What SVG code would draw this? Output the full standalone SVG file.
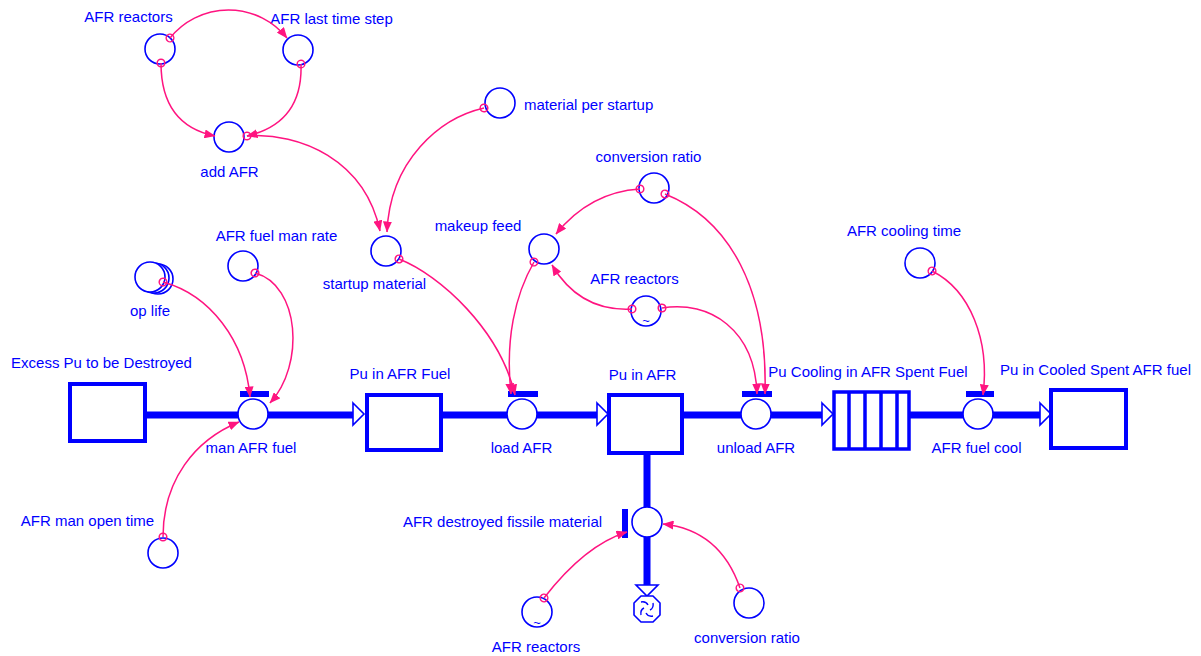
<svg xmlns="http://www.w3.org/2000/svg" width="1201" height="656" viewBox="0 0 1201 656">
<defs>
<style>
text{font-family:"Liberation Sans",Arial,sans-serif;font-size:15px;fill:#0000ff}
.m{text-anchor:middle}
.aux{fill:#fff;stroke:#0000ff;stroke-width:1.6}
.stock{fill:#fff;stroke:#0000ff;stroke-width:4}
.pipe{stroke:#0000ff;stroke-width:7;fill:none}
.tip{fill:#fff;stroke:#0000ff;stroke-width:1.6}
.bar{fill:#0000ff}
.lk{fill:none;stroke:#ff1480;stroke-width:1.5;marker-start:url(#dot);marker-end:url(#ah)}
.tl{font-size:13px}
</style>
<marker id="ah" markerUnits="userSpaceOnUse" viewBox="0 0 11 9" markerWidth="11" markerHeight="9" refX="10.5" refY="4.5" orient="auto">
<path d="M0,0 L11,4.5 L0,9 Z" fill="#ff1480"/>
</marker>
<marker id="dot" markerUnits="userSpaceOnUse" viewBox="0 0 12 12" markerWidth="12" markerHeight="12" refX="6" refY="6" orient="auto">
<circle cx="6" cy="6" r="3.8" fill="none" stroke="#ff1480" stroke-width="1.5"/>
</marker>
</defs>
<rect width="1201" height="656" fill="#fff"/>

<g id="flows">
<line class="pipe" x1="146" y1="415" x2="354" y2="415"/>
<polygon class="tip" points="353,403 364,414 353,425"/>
<line class="pipe" x1="442" y1="415" x2="598" y2="415"/>
<polygon class="tip" points="597,403 608,414 597,425"/>
<line class="pipe" x1="683" y1="415" x2="823" y2="415"/>
<polygon class="tip" points="822,403 833,414 822,425"/>
<line class="pipe" x1="909" y1="415" x2="1041" y2="415"/>
<polygon class="tip" points="1040,403 1051,414 1040,425"/>
<line class="pipe" x1="647" y1="455" x2="647" y2="586"/>
<polygon class="tip" points="636,585 658,585 647,596"/>
</g>

<g id="excess-pu">
<rect class="stock" x="70" y="384" width="75" height="57"/>
<text class="m" x="101.5" y="368">Excess Pu to be Destroyed</text>
</g>
<g id="pu-in-afr-fuel">
<rect class="stock" x="367" y="395" width="74" height="55"/>
<text class="m" x="400" y="379">Pu in AFR Fuel</text>
</g>
<g id="pu-in-afr">
<rect class="stock" x="609" y="395" width="73" height="58"/>
<text class="m" x="642.5" y="380">Pu in AFR</text>
</g>
<g id="pu-cooling">
<rect x="834" y="392" width="75" height="57" fill="#fff" stroke="#0000ff" stroke-width="3.5"/>
<path d="M849,392 V449 M865,392 V449 M881,392 V449 M897,392 V449" stroke="#0000ff" stroke-width="3.5"/>
<text class="m" x="868" y="377">Pu Cooling in AFR Spent Fuel</text>
</g>
<g id="pu-cooled">
<rect class="stock" x="1051" y="390" width="75" height="58"/>
<text class="m" x="1095.5" y="375">Pu in Cooled Spent AFR fuel</text>
</g>

<g id="man-afr-fuel">
<rect class="bar" x="240" y="391" width="29" height="6"/>
<circle class="aux" cx="253" cy="414" r="15"/>
<text class="m" x="251" y="453">man AFR fuel</text>
</g>
<g id="load-afr">
<rect class="bar" x="508" y="391" width="30" height="6"/>
<circle class="aux" cx="522" cy="414" r="15"/>
<text class="m" x="521.5" y="453">load AFR</text>
</g>
<g id="unload-afr">
<rect class="bar" x="742" y="391" width="30" height="6"/>
<circle class="aux" cx="756" cy="414" r="15"/>
<text class="m" x="756" y="453">unload AFR</text>
</g>
<g id="afr-fuel-cool">
<rect class="bar" x="966" y="391" width="28" height="6"/>
<circle class="aux" cx="978" cy="414" r="15"/>
<text class="m" x="976.5" y="453">AFR fuel cool</text>
</g>
<g id="afr-destroyed">
<rect class="bar" x="622" y="509" width="6" height="29"/>
<circle class="aux" cx="647" cy="522" r="15"/>
<text class="m" x="502.5" y="527">AFR destroyed fissile material</text>
</g>
<g id="cloud">
<path d="M641,596 L653,596 L660,603 L660,615 L653,622 L641,622 L634,615 L634,603 Z" fill="#fff" stroke="#0000ff" stroke-width="1.6" stroke-linejoin="round"/>
<path d="M641,602 Q646,601 648,605 M653,603 Q654,608 650,610 M653,616 Q648,617 646,613 M641,615 Q640,610 644,608" fill="none" stroke="#0000ff" stroke-width="1.4"/>
</g>

<g id="afr-reactors-top">
<circle class="aux" cx="160" cy="49" r="15"/>
<text class="m" x="128.5" y="22">AFR reactors</text>
</g>
<g id="afr-last-time-step">
<circle class="aux" cx="298" cy="50" r="15"/>
<text class="m" x="331.5" y="24">AFR last time step</text>
</g>
<g id="add-afr">
<circle class="aux" cx="229" cy="137" r="15"/>
<text class="m" x="229.5" y="177">add AFR</text>
</g>
<g id="material-per-startup">
<circle class="aux" cx="500" cy="103" r="15"/>
<text x="524" y="110">material per startup</text>
</g>
<g id="startup-material">
<circle class="aux" cx="386" cy="251" r="15"/>
<text class="m" x="374.5" y="289">startup material</text>
</g>
<g id="conversion-ratio-top">
<circle class="aux" cx="654" cy="188" r="15"/>
<text class="m" x="648.5" y="162">conversion ratio</text>
</g>
<g id="makeup-feed">
<circle class="aux" cx="544" cy="249" r="15"/>
<text class="m" x="478" y="231">makeup feed</text>
</g>
<g id="afr-reactors-mid">
<circle class="aux" cx="646" cy="311" r="15"/>
<text class="m tl" x="646" y="325">~</text>
<text class="m" x="634.5" y="284">AFR reactors</text>
</g>
<g id="op-life">
<circle class="aux" cx="158" cy="279" r="15"/>
<circle class="aux" cx="154" cy="278" r="15"/>
<circle class="aux" cx="150" cy="277" r="15"/>
<text class="m" x="150" y="316">op life</text>
</g>
<g id="afr-fuel-man-rate">
<circle class="aux" cx="243" cy="266" r="15"/>
<text class="m" x="276.5" y="241">AFR fuel man rate</text>
</g>
<g id="afr-man-open-time">
<circle class="aux" cx="163" cy="553" r="15"/>
<text class="m" x="87.5" y="526">AFR man open time</text>
</g>
<g id="afr-cooling-time">
<circle class="aux" cx="920" cy="263" r="15"/>
<text class="m" x="904" y="236">AFR cooling time</text>
</g>
<g id="afr-reactors-bottom">
<circle class="aux" cx="537" cy="612" r="15"/>
<text class="m tl" x="537" y="627">~</text>
<text class="m" x="536" y="652">AFR reactors</text>
</g>
<g id="conversion-ratio-bottom">
<circle class="aux" cx="749" cy="603" r="15"/>
<text class="m" x="747" y="643">conversion ratio</text>
</g>

<g id="connectors">
<path class="lk" d="M170,38 A75,75 0 0,1 287,38"/>
<path class="lk" d="M161,63 Q161,125 215,136"/>
<path class="lk" d="M301,64 Q303,123 247,136"/>
<path class="lk" d="M247,136 C300,132 365,160 380,231"/>
<path class="lk" d="M484,108 C440,118 390,160 387,232"/>
<path class="lk" d="M399,259 C440,275 500,330 515,395"/>
<path class="lk" d="M534,262 C515,295 505,340 511,394"/>
<path class="lk" d="M640,189 Q590,192 556,234"/>
<path class="lk" d="M665,194 C730,220 768,290 765,394"/>
<path class="lk" d="M632,309 Q580,312 552,265"/>
<path class="lk" d="M662,308 C710,300 755,330 757,394"/>
<path class="lk" d="M163,282 C210,295 245,340 250,397"/>
<path class="lk" d="M255,273 C300,285 305,365 270,403"/>
<path class="lk" d="M163,537 C163,480 195,440 239,422"/>
<path class="lk" d="M932,271 C970,290 990,340 983,395"/>
<path class="lk" d="M544,598 Q585,545 627,532"/>
<path class="lk" d="M740,588 Q720,530 663,524"/>
</g>
</svg>
